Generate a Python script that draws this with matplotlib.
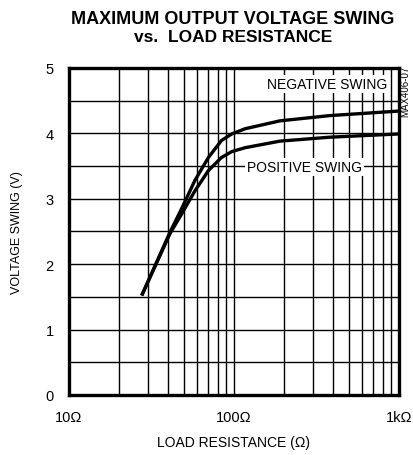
import matplotlib
matplotlib.use("Agg")
import matplotlib.pyplot as plt
from matplotlib.ticker import FixedLocator, NullFormatter

# curve data
neg_r = [27.6, 41, 48, 58, 70, 84, 97, 117, 190, 380, 1000]
neg_v = [1.52, 2.49, 2.84, 3.28, 3.63, 3.89, 3.99, 4.07, 4.19, 4.27, 4.34]
pos_r = [27.6, 41, 48, 58, 70, 84, 97, 117, 190, 380, 1000]
pos_v = [1.52, 2.47, 2.76, 3.12, 3.43, 3.63, 3.72, 3.78, 3.88, 3.94, 3.99]

x_ticks = [10, 100, 1000]
x_labels = ["10Ω", "100Ω", "1kΩ"]
y_ticks = [0, 1, 2, 3, 4, 5]

plt.rcParams['font.family'] = ['Liberation Sans', 'DejaVu Sans']

fig = plt.figure(figsize=(4.13, 4.56), dpi=100)
ax = fig.add_axes([0.167, 0.1316, 0.799, 0.7174])

ax.set_xscale('log')
ax.set_xlim(10, 1000)
ax.set_ylim(0, 5)

# log grid: every decade step on x, every 0.5 V on y
minor = [m * d for d in (10, 100) for m in range(2, 10)]
ax.xaxis.set_major_locator(FixedLocator(x_ticks))
ax.xaxis.set_minor_locator(FixedLocator(minor))
ax.xaxis.set_minor_formatter(NullFormatter())
ax.set_xticklabels(x_labels)
ax.set_yticks(y_ticks)
ax.yaxis.set_minor_locator(FixedLocator([0.5 + i for i in range(5)]))
ax.grid(True, which='both', color='black', linewidth=1.0)
ax.tick_params(which='both', length=0, labelsize=10.5)
ax.tick_params(axis='x', pad=11)
ax.tick_params(axis='y', pad=11)

for s in ax.spines.values():
    s.set_linewidth(2.4)
    s.set_zorder(5)

ax.plot(neg_r, neg_v, color='black', linewidth=2.4, solid_capstyle='butt',
        solid_joinstyle='round', zorder=4)
ax.plot(pos_r, pos_v, color='black', linewidth=2.4, solid_capstyle='butt',
        solid_joinstyle='round', zorder=4)

box = dict(facecolor='white', edgecolor='none', pad=1.5)
ax.text(366, 4.75, "NEGATIVE SWING", ha='center', va='center', fontsize=10, bbox=box, zorder=6)
ax.text(269, 3.49, "POSITIVE SWING", ha='center', va='center', fontsize=10, bbox=box, zorder=6)

ax.set_xlabel("LOAD RESISTANCE (Ω)", fontsize=10, labelpad=8)
ax.set_ylabel("VOLTAGE SWING (V)", fontsize=9, labelpad=16)

fig.text(0.564, 0.958, "MAXIMUM OUTPUT VOLTAGE SWING", ha='center', va='center',
         fontsize=13, fontweight='bold')
fig.text(0.564, 0.917, "vs.  LOAD RESISTANCE", ha='center', va='center',
         fontsize=12.5, fontweight='bold')
fig.text(0.981, 0.80, "MAX406-07", rotation=90, ha='center', va='center', fontsize=7)

fig.savefig("out.png", dpi=100)
